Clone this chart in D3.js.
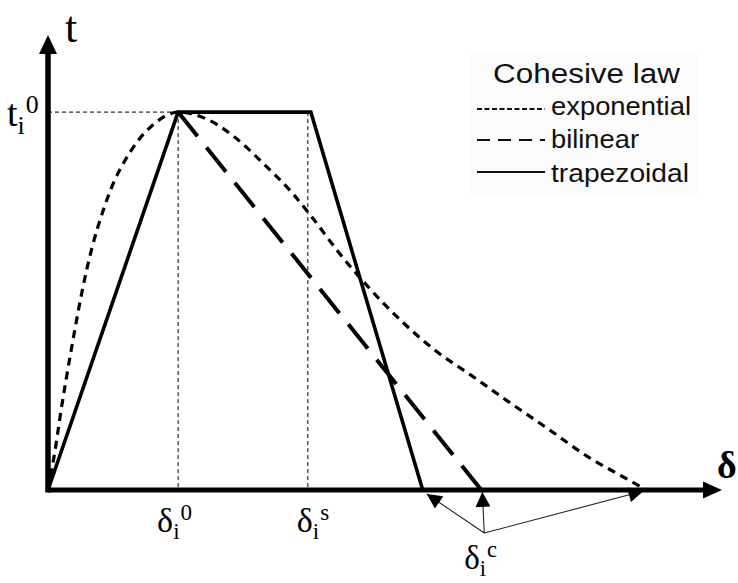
<!DOCTYPE html>
<html>
<head>
<meta charset="utf-8">
<script src="https://cdn.jsdelivr.net/npm/d3@7"></script>
<style>
  html, body { margin: 0; padding: 0; background: #fff; }
  svg { display: block; }
</style>
</head>
<body>
<svg id="chart" width="738" height="583"></svg>
<script>
// Separations in units of the onset separation δi0, tractions in units of ti0
const deltaOnset = 1.0;        // δi0
const deltaPlateauEnd = 2.02;  // δis
const deltaMax = 5.18;         // end of the δ axis
const tractionMax = 1.204;     // end of the t axis

// trapezoidal law (solid)
const trapDelta = [0, 1.0, 2.02, 2.88];
const trapTraction = [0, 1, 1, 0];

// bilinear law: shares the loading branch, softening branch dashed
const bilinDelta = [1.0, 3.33];
const bilinTraction = [1, 0];

// exponential law (short dashes)
const expDelta = [0, 0.02, 0.046, 0.1, 0.174, 0.30, 0.46, 0.646, 0.823, 1.0,
                  1.223, 1.438, 1.658, 1.877, 2.02, 2.238, 2.454, 2.708, 2.962,
                  3.25, 3.538, 3.83, 4.154, 4.408, 4.6];
const expTraction = [0, 0.04, 0.087, 0.21, 0.362, 0.587, 0.775, 0.902, 0.971, 1.0,
                     0.981, 0.933, 0.863, 0.786, 0.726, 0.627, 0.540, 0.450, 0.373,
                     0.304, 0.234, 0.165, 0.087, 0.037, 0.0];

// critical separations pointed at by δic
const criticalDelta = [2.88, 3.33, 4.6];

const legendTitle = "Cohesive law";
const legendLabels = ["exponential", "bilinear", "trapezoidal"];

const svg = d3.select("#chart");

const x = d3.scaleLinear().domain([0, deltaMax]).range([48, 722]);
const y = d3.scaleLinear().domain([0, tractionMax]).range([490, 35]);

const x0 = x(0), y0 = y(0);
const serif = "'Liberation Serif', 'Times New Roman', serif";
const sans = "'Liberation Sans', Arial, sans-serif";

// thin guide lines to the peak and the end of the plateau
const guides = svg.append("g")
  .attr("stroke", "#000").attr("stroke-width", 1).attr("stroke-dasharray", "4,3");
guides.append("line").attr("x1", x0).attr("x2", x(deltaOnset)).attr("y1", y(1)).attr("y2", y(1));
guides.append("line").attr("x1", x(deltaOnset)).attr("x2", x(deltaOnset)).attr("y1", y(1)).attr("y2", y0);
guides.append("line").attr("x1", x(deltaPlateauEnd) - 3).attr("x2", x(deltaPlateauEnd) - 3).attr("y1", y(1)).attr("y2", y0);

const line = d3.line().x(d => x(d[0])).y(d => y(d[1]));
const curve = d3.line().x(d => x(d[0])).y(d => y(d[1])).curve(d3.curveMonotoneX);

// exponential
svg.append("path")
  .datum(expDelta.map((d, i) => [d, expTraction[i]]))
  .attr("d", curve)
  .attr("fill", "none").attr("stroke", "#000")
  .attr("stroke-width", 3.2).attr("stroke-dasharray", "8,6");

// bilinear softening branch: dash lengths chosen so a dash meets the axis
const bilinPath = svg.append("path")
  .datum(bilinDelta.map((d, i) => [d, bilinTraction[i]]))
  .attr("d", line)
  .attr("fill", "none").attr("stroke", "#000")
  .attr("stroke-width", 4);
{
  const L = bilinPath.node().getTotalLength();
  const n = 10, ratio = 0.46;
  const dash = L / (n * (1 + ratio) + 1);
  bilinPath.attr("stroke-dasharray", `${dash},${dash * ratio}`);
}

// trapezoidal
svg.append("path")
  .datum(trapDelta.map((d, i) => [d, trapTraction[i]]))
  .attr("d", line)
  .attr("fill", "none").attr("stroke", "#000")
  .attr("stroke-width", 3.6).attr("stroke-linejoin", "miter");

// axes with arrow heads
const axes = svg.append("g");
axes.append("line").attr("x1", x0).attr("x2", x(deltaMax) - 10).attr("y1", y0).attr("y2", y0)
  .attr("stroke", "#000").attr("stroke-width", 5);
axes.append("line").attr("x1", x0).attr("x2", x0).attr("y1", y0 + 2.5).attr("y2", y(tractionMax) + 10)
  .attr("stroke", "#000").attr("stroke-width", 5.5);
axes.append("path")
  .attr("d", `M${x(deltaMax)},${y0} L${x(deltaMax) - 19},${y0 - 8.5} L${x(deltaMax) - 19},${y0 + 8.5} Z`);
axes.append("path")
  .attr("d", `M${x0},${y(tractionMax)} L${x0 - 9},${y(tractionMax) + 19} L${x0 + 9},${y(tractionMax) + 19} Z`);

// axis titles
svg.append("text").attr("x", 65).attr("y", 42)
  .attr("font-family", serif).attr("font-size", 44).text("t");
svg.append("text").attr("x", 717).attr("y", 478)
  .attr("font-family", serif).attr("font-size", 38).attr("font-weight", "bold").text("δ");

// label helper: base glyph with subscript i and a superscript
function symbolLabel(px, py, base, sup, size) {
  const g = svg.append("text").attr("x", px).attr("y", py)
    .attr("font-family", serif).attr("font-size", size);
  g.append("tspan").text(base);
  g.append("tspan").attr("font-size", size * 0.68).attr("dy", size * 0.2).text("i");
  g.append("tspan").attr("font-size", size * 0.68).attr("dy", -size * 0.55).attr("dx", 1).text(sup);
  return g;
}

symbolLabel(7, 126, "t", "0", 38);
symbolLabel(x(deltaOnset) - 21, 532, "δ", "0", 34);
symbolLabel(x(deltaPlateauEnd) - 14, 532, "δ", "s", 34);

// δic pointing at the three critical separations
const hub = [x(criticalDelta[1]) + 3, 533];
svg.append("defs").append("marker")
  .attr("id", "head").attr("viewBox", "0 0 10 10")
  .attr("refX", 10).attr("refY", 5)
  .attr("markerWidth", 17).attr("markerHeight", 15)
  .attr("markerUnits", "userSpaceOnUse").attr("orient", "auto")
  .append("path").attr("d", "M0,0 L10,5 L0,10 Z");

const tipY = [y0 + 4, y0 + 2, y0 + 1];
const tipDx = [4, 1, -3];
svg.append("g").selectAll("line").data(criticalDelta).join("line")
  .attr("x1", hub[0]).attr("y1", hub[1])
  .attr("x2", (d, i) => x(d) + tipDx[i]).attr("y2", (d, i) => tipY[i])
  .attr("stroke", "#222").attr("stroke-width", 1.1)
  .attr("marker-end", "url(#head)");

symbolLabel(hub[0] - 20, 569, "δ", "c", 33);

// legend
const lg = svg.append("g");
lg.append("rect").attr("x", 470).attr("y", 50).attr("width", 228).attr("height", 148)
  .attr("fill", "#fcfcfc");
lg.append("text").attr("x", 493).attr("y", 83)
  .attr("font-family", sans).attr("font-size", 27)
  .attr("textLength", 187).attr("lengthAdjust", "spacingAndGlyphs")
  .attr("fill", "#111").text(legendTitle);

const rowY = [109, 140, 172];
const rowBase = [115, 148, 182];
const rowLen = [140, 88, 138];
const rowDash = ["5,2.5", "13,8", null];
const rowWidth = [2, 2, 2.2];
legendLabels.forEach((lab, i) => {
  lg.append("line").attr("x1", 477).attr("x2", 545).attr("y1", rowY[i]).attr("y2", rowY[i])
    .attr("stroke", "#111").attr("stroke-width", rowWidth[i])
    .attr("stroke-dasharray", rowDash[i]);
  lg.append("text").attr("x", 551).attr("y", rowBase[i])
    .attr("font-family", sans).attr("font-size", 26)
    .attr("textLength", rowLen[i]).attr("lengthAdjust", "spacingAndGlyphs")
    .attr("fill", "#111").text(lab);
});
</script>
</body>
</html>
